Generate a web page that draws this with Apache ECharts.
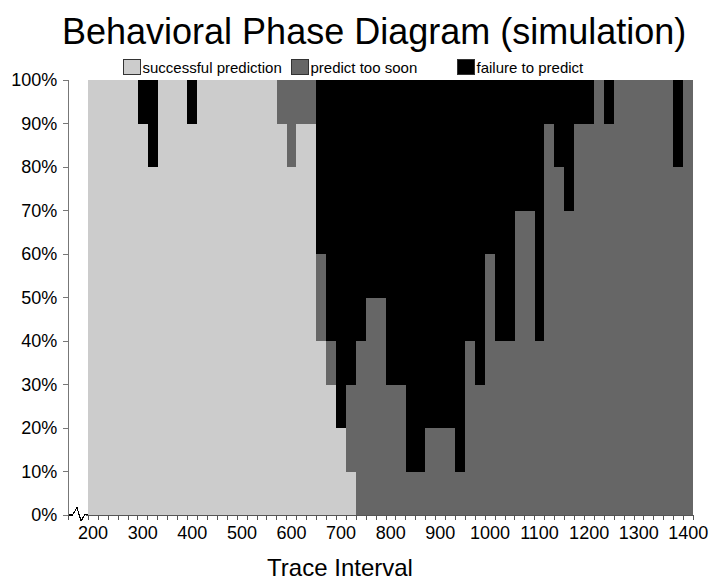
<!DOCTYPE html>
<html>
<head>
<meta charset="utf-8">
<script src="https://cdn.jsdelivr.net/npm/echarts@6/dist/echarts.min.js"></script>
<style>
  html, body { margin: 0; padding: 0; background: #fff; }
  #chart { width: 713px; height: 580px; }
  #chart svg path { shape-rendering: crispEdges; }
</style>
</head>
<body>
<div id="chart"></div>
<script>
// Trace interval categories (x)
const categories = ['200','220','240','260','280','300','320','340','360','380',
  '400','420','440','460','480','500','520','540','560','580',
  '600','620','640','660','680','700','720','740','760','780',
  '800','820','840','860','880','900','920','940','960','980',
  '1000','1020','1040','1060','1080','1100','1120','1140','1160','1180',
  '1200','1220','1240','1260','1280','1300','1320','1340','1360','1380','1400'];

// Percent of runs in each outcome
const successfulPrediction = [100,100,100,100,100, 90, 80,100,100,100,
  90,100,100,100,100,100,100,100,100, 90,
  80, 90, 90, 40, 30, 20, 10,  0,  0,  0,
   0,  0,  0,  0,  0,  0,  0,  0,  0,  0,
   0,  0,  0,  0,  0,  0,  0,  0,  0,  0,
   0,  0,  0,  0,  0,  0,  0,  0,  0,  0,  0];
const predictTooSoon = [0,0,0,0,0,0,0,0,0,0,
   0,  0,  0,  0,  0,  0,  0,  0,  0, 10,
  20, 10, 10, 20, 10,  0, 20, 40, 50, 50,
  30, 30, 10, 10, 20, 20, 20, 10, 40, 30,
  60, 40, 40, 70, 70, 40, 90, 80, 70, 90,
  90,100, 90,100,100,100,100,100,100, 80,100];
const failureToPredict = [0,0,0,0,0,10,20,0,0,0,
  10,  0,  0,  0,  0,  0,  0,  0,  0,  0,
   0,  0,  0, 40, 60, 80, 70, 60, 50, 50,
  70, 70, 90, 90, 80, 80, 80, 90, 60, 70,
  40, 60, 60, 30, 30, 60, 10, 20, 30, 10,
  10,  0, 10,  0,  0,  0,  0,  0,  0, 20,  0];

const yTicks = [0,10,20,30,40,50,60,70,80,90,100];

const seriesNames = ['successful prediction', 'predict too soon', 'failure to predict'];
const seriesColors = ['#cccccc', '#666666', '#000000'];

// two empty leading slots to leave the broken-axis gap before the first bar
const spacer = ['s1', 's2'];
const axisCats = spacer.concat(categories);
const pad = v => [null, null].concat(v.map(x => (x === 0 ? null : x)));

const FONT = 'Liberation Sans, Arial, Helvetica, sans-serif';
const chart = echarts.init(document.getElementById('chart'), null, { renderer: 'svg' });

function mkSeries(name, data, color) {
  return {
    name: name,
    type: 'bar',
    stack: 'all',
    barCategoryGap: '0%',
    data: pad(data),
    itemStyle: { color: color, borderWidth: 0 },
    emphasis: { disabled: true },
    animation: false
  };
}

function mkLegend(name, left) {
  return {
    data: [name],
    left: left,
    top: 59,
    padding: 0,
    icon: 'rect',
    itemWidth: 17,
    itemHeight: 15,
    selectedMode: false,
    itemStyle: { borderColor: '#333', borderWidth: 1 },
    textStyle: { fontFamily: FONT, fontSize: 15, color: '#000', padding: [0, 0, 0, -3] }
  };
}

const option = {
  backgroundColor: '#fff',
  animation: false,
  title: {
    text: 'Behavioral Phase Diagram (simulation)',
    left: 62,
    top: 13,
    padding: 0,
    textStyle: { fontFamily: FONT, fontSize: 36, fontWeight: 'normal', color: '#000' }
  },
  legend: [
    mkLegend(seriesNames[0], 123),
    mkLegend(seriesNames[1], 291),
    mkLegend(seriesNames[2], 457)
  ],
  grid: { left: 68.3, right: 19.7, top: 80, bottom: 65, containLabel: false },
  xAxis: {
    type: 'category',
    data: axisCats,
    boundaryGap: true,
    axisLine: { show: true, lineStyle: { color: '#555', width: 1 } },
    axisTick: {
      show: true,
      length: 5,
      interval: function (index) { return index !== 1; },
      lineStyle: { color: '#555', width: 1 }
    },
    axisLabel: {
      interval: function (index, value) {
        return spacer.indexOf(value) < 0 && Number(value) % 100 === 0;
      },
      margin: 9,
      fontFamily: FONT,
      fontSize: 18,
      color: '#000'
    },
    splitLine: { show: false }
  },
  yAxis: {
    type: 'value',
    min: yTicks[0],
    max: yTicks[yTicks.length - 1],
    interval: yTicks[1] - yTicks[0],
    axisLine: { show: true, lineStyle: { color: '#777', width: 1 } },
    axisTick: { show: true, length: 5, lineStyle: { color: '#777', width: 1 } },
    axisLabel: {
      formatter: '{value}%',
      margin: 11,
      fontFamily: FONT,
      fontSize: 18,
      color: '#000'
    },
    splitLine: { show: false }
  },
  series: [
    mkSeries(seriesNames[0], successfulPrediction, seriesColors[0]),
    mkSeries(seriesNames[1], predictTooSoon, seriesColors[1]),
    mkSeries(seriesNames[2], failureToPredict, seriesColors[2])
  ],
  graphic: [
    {
      type: 'rect',
      z: 100,
      shape: { x: 71, y: 512, width: 15, height: 6 },
      style: { fill: '#fff' }
    },
    {
      type: 'polyline',
      z: 101,
      shape: { points: [[69, 515], [72.5, 515], [77, 507.5], [81, 521], [85, 514.5], [88, 514.5]] },
      style: { stroke: '#000', lineWidth: 1.1, fill: null }
    },
    {
      type: 'text',
      z: 100,
      x: 340,
      y: 567,
      style: {
        text: 'Trace Interval',
        fontFamily: FONT,
        fontSize: 24,
        fill: '#000',
        textAlign: 'center',
        textVerticalAlign: 'middle'
      }
    }
  ]
};

chart.setOption(option);
</script>
</body>
</html>
